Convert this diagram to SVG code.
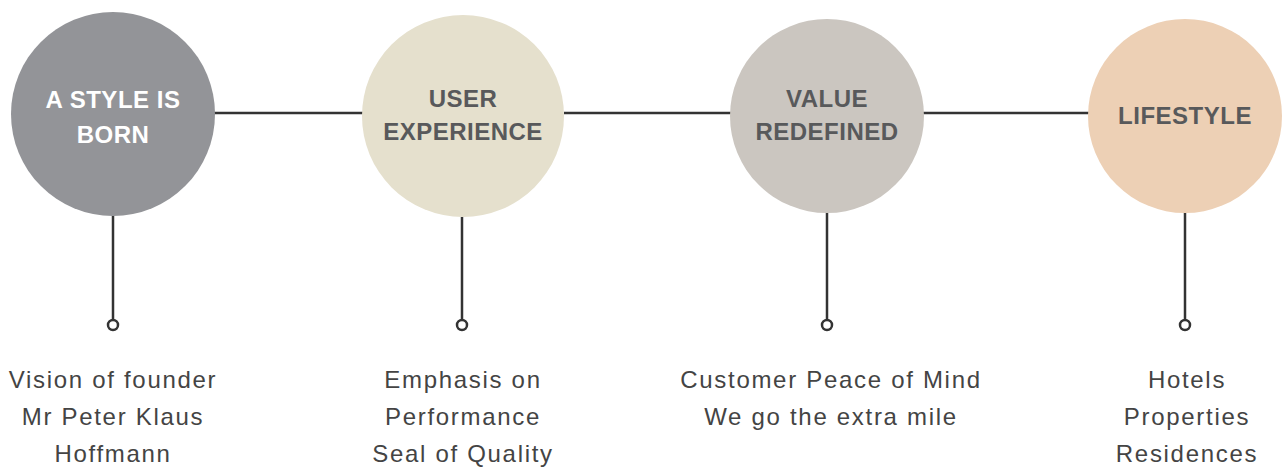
<svg xmlns="http://www.w3.org/2000/svg" width="1282" height="471" viewBox="0 0 1282 471">
<style>
.title{font-family:"Liberation Sans",Arial,sans-serif;font-weight:bold;font-size:24px;text-anchor:middle;letter-spacing:0.5px}
.dark{fill:#58595b}
.light{fill:#ffffff}
.body{font-family:"Liberation Sans",Arial,sans-serif;font-size:24px;fill:#444444;text-anchor:middle;letter-spacing:1.7px}
.conn{stroke:#333333;stroke-width:2.5;fill:none}
.dot{stroke:#333333;stroke-width:2.5;fill:#ffffff}
</style>
<rect width="1282" height="471" fill="#ffffff"/>
<g id="connectors">
<line class="conn" x1="214" y1="113" x2="363" y2="113"/>
<line class="conn" x1="564" y1="113" x2="732" y2="113"/>
<line class="conn" x1="923" y1="113" x2="1089" y2="113"/>
<line class="conn" x1="113" y1="215" x2="113" y2="320"/>
<line class="conn" x1="462" y1="217" x2="462" y2="320"/>
<line class="conn" x1="827" y1="211" x2="827" y2="320"/>
<line class="conn" x1="1185" y1="212" x2="1185" y2="320"/>
<circle class="dot" cx="113" cy="325" r="5"/>
<circle class="dot" cx="462" cy="325" r="5"/>
<circle class="dot" cx="827" cy="325" r="5"/>
<circle class="dot" cx="1185" cy="325" r="5"/>
</g>
<g id="node1">
<circle cx="113" cy="114" r="102" fill="#939498"/>
<text class="title light" x="113" y="108">A STYLE IS</text>
<text class="title light" x="113" y="143">BORN</text>
<text class="body" x="113" y="388">Vision of founder</text>
<text class="body" x="113" y="425">Mr Peter Klaus</text>
<text class="body" x="113" y="462">Hoffmann</text>
</g>
<g id="node2">
<circle cx="463" cy="116" r="101" fill="#e5e0cd"/>
<text class="title dark" x="463" y="107">USER</text>
<text class="title dark" x="463" y="140">EXPERIENCE</text>
<text class="body" x="463" y="388">Emphasis on</text>
<text class="body" x="463" y="425">Performance</text>
<text class="body" x="463" y="462">Seal of Quality</text>
</g>
<g id="node3">
<circle cx="827" cy="116" r="97" fill="#cbc6c0"/>
<text class="title dark" x="827" y="107">VALUE</text>
<text class="title dark" x="827" y="140">REDEFINED</text>
<text class="body" x="831" y="388">Customer Peace of Mind</text>
<text class="body" x="831" y="425">We go the extra mile</text>
</g>
<g id="node4">
<circle cx="1185" cy="116" r="97" fill="#edd0b5"/>
<text class="title dark" x="1185" y="124">LIFESTYLE</text>
<text class="body" x="1187" y="388">Hotels</text>
<text class="body" x="1187" y="425">Properties</text>
<text class="body" x="1187" y="462">Residences</text>
</g>
</svg>
